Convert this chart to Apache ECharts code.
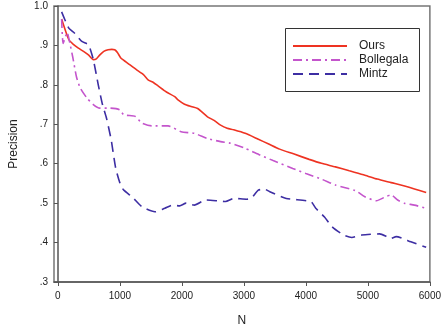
<!DOCTYPE html>
<html>
<head>
<meta charset="utf-8">
<script src="https://cdn.jsdelivr.net/npm/echarts@6/dist/echarts.min.js"></script>
<style>html,body{margin:0;padding:0;background:#fff}#c{width:444px;height:333px}</style>
</head>
<body>
<div id="c"></div>
<script>
var xTicks = [0, 1000, 2000, 3000, 4000, 5000, 6000];
var yTicks = [0.3, 0.4, 0.5, 0.6, 0.7, 0.8, 0.9, 1.0];
var seriesNames = ['Ours', 'Bollegala', 'Mintz'];

var ours = [[60,0.967],[175,0.915],[254,0.902],[330,0.893],[413,0.885],[492,0.876],[571,0.864],[620,0.866],[677,0.876],[740,0.885],[810,0.889],[870,0.89],[916,0.889],[960,0.882],[1011,0.869],[1048,0.864],[1150,0.852],[1270,0.838],[1380,0.826],[1460,0.812],[1540,0.806],[1619,0.797],[1750,0.782],[1884,0.77],[1937,0.762],[2042,0.751],[2150,0.745],[2254,0.74],[2413,0.719],[2519,0.71],[2624,0.698],[2730,0.69],[2836,0.686],[3021,0.677],[3233,0.662],[3400,0.65],[3577,0.637],[3800,0.625],[4053,0.611],[4250,0.601],[4476,0.592],[4700,0.582],[4952,0.571],[5150,0.561],[5376,0.552],[5650,0.541],[5940,0.527]];

var bollegala = [[60,0.967],[85,0.905],[150,0.933],[180,0.915],[240,0.87],[300,0.82],[360,0.792],[466,0.767],[571,0.75],[677,0.741],[836,0.741],[995,0.737],[1063,0.724],[1249,0.72],[1354,0.703],[1513,0.696],[1778,0.696],[1989,0.681],[2201,0.677],[2413,0.664],[2624,0.656],[2783,0.652],[3021,0.639],[3259,0.622],[3471,0.608],[3788,0.588],[4000,0.575],[4265,0.56],[4476,0.546],[4794,0.532],[4952,0.516],[5138,0.506],[5270,0.515],[5376,0.521],[5480,0.508],[5587,0.5],[5750,0.495],[5940,0.487]];

var mintz = [[60,0.985],[175,0.944],[270,0.931],[386,0.91],[492,0.902],[571,0.864],[651,0.80],[719,0.75],[783,0.716],[860,0.66],[932,0.589],[1011,0.546],[1063,0.533],[1196,0.516],[1354,0.491],[1566,0.478],[1725,0.487],[1857,0.495],[1963,0.493],[2069,0.5],[2201,0.495],[2386,0.508],[2571,0.506],[2704,0.504],[2836,0.512],[3048,0.51],[3120,0.512],[3233,0.533],[3339,0.535],[3418,0.529],[3683,0.512],[4079,0.504],[4159,0.487],[4300,0.465],[4423,0.44],[4608,0.419],[4741,0.413],[4899,0.419],[5190,0.422],[5376,0.411],[5455,0.415],[5693,0.402],[5940,0.388]];

var chart = echarts.init(document.getElementById('c'));
var font = 'Liberation Sans, Arial, sans-serif';
chart.setOption({
  animation: false,
  backgroundColor: '#fff',
  grid: { left: 54, right: 8, top: 6, bottom: 51, show: true, borderColor: '#777', borderWidth: 1.5, backgroundColor: 'transparent' },
  xAxis: {
    type: 'value', min: -63, max: 6000,
    name: 'N', nameLocation: 'middle', nameGap: 33,
    nameTextStyle: { fontFamily: font, fontSize: 12, color: '#222' },
    axisLine: { show: true, lineStyle: { color: '#555', width: 1.5 } },
    axisTick: { show: true, customValues: xTicks, length: 4, lineStyle: { color: '#555' } },
    axisLabel: { customValues: xTicks, fontFamily: font, fontSize: 10, color: '#222', margin: 9,
      formatter: function (v) { return String(Math.round(v)); } },
    splitLine: { show: false }
  },
  yAxis: {
    type: 'value', min: 0.3, max: 1.0, interval: 0.1,
    name: 'Precision', nameLocation: 'middle', nameGap: 34,
    nameTextStyle: { fontFamily: font, fontSize: 12, color: '#222' },
    axisLine: { show: true, lineStyle: { color: '#555', width: 1.5 } },
    axisTick: { show: true, length: 4, lineStyle: { color: '#555' } },
    axisLabel: { fontFamily: font, fontSize: 10, color: '#222', margin: 6,
      formatter: function (v) { var s = v.toFixed(1); return s === '1.0' ? s : s.replace(/^0/, ''); } },
    splitLine: { show: false }
  },
  legend: {
    orient: 'vertical', left: 287, top: 35,
    itemWidth: 54, itemHeight: 14, itemGap: 2,
    itemStyle: { opacity: 0 },
    textStyle: { fontFamily: font, fontSize: 12, color: '#222', padding: [0, 0, 0, 7] },
    data: seriesNames
  },
  graphic: [{ type: 'rect', left: 285, top: 28, shape: { width: 134, height: 63 },
    style: { fill: 'transparent', stroke: '#333', lineWidth: 1 }, z: 100 }],
  series: [
    { name: seriesNames[0], type: 'line', data: ours, symbol: 'none', smooth: 0.2,
      lineStyle: { color: '#ee3322', width: 1.6, type: 'solid' }, itemStyle: { color: '#ee3322' } },
    { name: seriesNames[1], type: 'line', data: bollegala, symbol: 'none', smooth: 0.2,
      lineStyle: { color: '#c455cc', width: 1.6, type: [9, 4, 2, 4] }, itemStyle: { color: '#c455cc' } },
    { name: seriesNames[2], type: 'line', data: mintz, symbol: 'none', smooth: 0.2,
      lineStyle: { color: '#3d2ea3', width: 1.6, type: [10, 6] }, itemStyle: { color: '#3d2ea3' } }
  ]
});
</script>
</body>
</html>
